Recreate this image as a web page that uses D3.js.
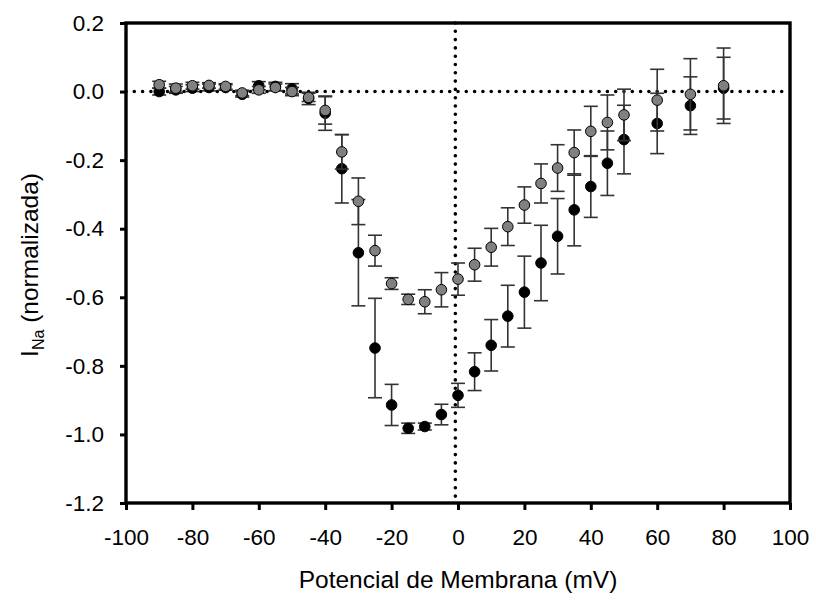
<!DOCTYPE html>
<html>
<head>
<meta charset="utf-8">
<script src="https://cdn.jsdelivr.net/npm/d3@7"></script>
<style>
  body { margin: 0; background: #fff; }
  svg text { font-family: "Liberation Sans", Arial, sans-serif; fill: #000; }
</style>
</head>
<body>
<div id="chart"></div>
<script>
// membrane potential steps (mV)
const voltages = [-90, -85, -80, -75, -70, -65, -60, -55, -50, -45, -40, -35, -30, -25, -20, -15,
                  -10, -5, 0, 5, 10, 15, 20, 25, 30, 35, 40, 45, 50, 60, 70, 80];

// black series: mean and error
const blackMean = [0.0, 0.005, 0.01, 0.012, 0.012, -0.008, 0.017, 0.015, 0.008, -0.02, -0.063, -0.225,
                   -0.47, -0.748, -0.914, -0.982, -0.977, -0.942, -0.886, -0.817, -0.74, -0.655, -0.585,
                   -0.5, -0.422, -0.345, -0.277, -0.209, -0.14, -0.093, -0.041, 0.01];
const blackErr = [0.01, 0.01, 0.01, 0.01, 0.008, 0.008, 0.012, 0.012, 0.015, 0.018, 0.05, 0.1,
                  0.155, 0.145, 0.06, 0.015, 0.01, 0.03, 0.035, 0.055, 0.075, 0.09, 0.105,
                  0.11, 0.11, 0.105, 0.09, 0.094, 0.1, 0.088, 0.084, 0.09];

// grey series
const greyMean = [0.02, 0.01, 0.017, 0.018, 0.015, -0.004, 0.005, 0.012, 0.0, -0.017, -0.055, -0.176,
                  -0.32, -0.464, -0.56, -0.606, -0.613, -0.578, -0.547, -0.505, -0.454, -0.394, -0.331,
                  -0.268, -0.223, -0.178, -0.116, -0.09, -0.068, -0.025, -0.008, 0.017];
const greyErr = [0.01, 0.012, 0.01, 0.008, 0.008, 0.008, 0.01, 0.01, 0.012, 0.012, 0.04, 0.05,
                 0.068, 0.045, 0.017, 0.015, 0.035, 0.05, 0.047, 0.048, 0.055, 0.055, 0.053,
                 0.057, 0.068, 0.066, 0.073, 0.08, 0.075, 0.09, 0.104, 0.11];

const xTicks = [-100, -80, -60, -40, -20, 0, 20, 40, 60, 80, 100];
const yTicks = [0.2, 0.0, -0.2, -0.4, -0.6, -0.8, -1.0, -1.2];
const zeroLineX = -0.8;   // vertical dotted reference line sits just left of 0

const width = 816, height = 600;
const margin = {top: 23, right: 26, bottom: 97, left: 126};

const svg = d3.select("#chart").append("svg")
  .attr("width", width)
  .attr("height", height);

const x = d3.scaleLinear().domain([-100, 100]).range([margin.left, width - margin.right]);
const y = d3.scaleLinear().domain([-1.2, 0.2]).range([height - margin.bottom, margin.top]);

// plain hyphen instead of the unicode minus d3 uses
const fmtX = d => d3.format("d")(d).replace("\u2212", "-");
const fmtY = d => d3.format(".1f")(d).replace("\u2212", "-");

// dotted reference lines
svg.append("line")
  .attr("x1", x(-100)).attr("x2", x(100))
  .attr("y1", y(0)).attr("y2", y(0))
  .attr("stroke", "#000").attr("stroke-width", 3.6)
  .attr("stroke-linecap", "round").attr("stroke-dasharray", "0,8.3");
svg.append("line")
  .attr("x1", x(zeroLineX)).attr("x2", x(zeroLineX))
  .attr("y1", y(0.2)).attr("y2", y(-1.2))
  .attr("stroke", "#000").attr("stroke-width", 3.6)
  .attr("stroke-linecap", "round").attr("stroke-dasharray", "0,8.3");

function drawSeries(means, errs, fill) {
  const data = voltages.map((v, i) => ({v: v, m: means[i], e: errs[i]}));
  const g = svg.append("g");
  const bars = g.selectAll("g.bar").data(data).enter().append("g")
    .attr("stroke", "#333").attr("stroke-width", 1.6);
  bars.append("line")
    .attr("x1", d => x(d.v)).attr("x2", d => x(d.v))
    .attr("y1", d => y(d.m + d.e)).attr("y2", d => y(d.m - d.e));
  bars.append("line")
    .attr("x1", d => x(d.v) - 7).attr("x2", d => x(d.v) + 7)
    .attr("y1", d => y(d.m + d.e)).attr("y2", d => y(d.m + d.e));
  bars.append("line")
    .attr("x1", d => x(d.v) - 7).attr("x2", d => x(d.v) + 7)
    .attr("y1", d => y(d.m - d.e)).attr("y2", d => y(d.m - d.e));
  g.selectAll("circle").data(data).enter().append("circle")
    .attr("cx", d => x(d.v))
    .attr("cy", d => y(d.m))
    .attr("r", 5.3)
    .attr("fill", fill)
    .attr("stroke", "#000")
    .attr("stroke-width", 1);
}

drawSeries(blackMean, blackErr, "#000");
drawSeries(greyMean, greyErr, "#808080");

// axes
const xAxis = svg.append("g")
  .attr("transform", "translate(0," + y(-1.2) + ")")
  .call(d3.axisBottom(x).tickValues(xTicks).tickSize(7).tickPadding(19).tickFormat(fmtX));
const yAxis = svg.append("g")
  .attr("transform", "translate(" + x(-100) + ",0)")
  .call(d3.axisLeft(y).tickValues(yTicks).tickSize(6).tickPadding(16).tickFormat(fmtY));

[xAxis, yAxis].forEach(a => {
  a.select(".domain").remove();
  a.selectAll(".tick line").attr("stroke", "#000").attr("stroke-width", 3);
  a.selectAll(".tick text").attr("font-size", 22.5).attr("font-family", "Liberation Sans, Arial, sans-serif");
});
xAxis.selectAll(".tick text").attr("dy", "0.71em");

// frame
svg.append("rect")
  .attr("x", x(-100)).attr("y", y(0.2))
  .attr("width", x(100) - x(-100)).attr("height", y(-1.2) - y(0.2))
  .attr("fill", "none").attr("stroke", "#000").attr("stroke-width", 3.4);

// titles
svg.append("text")
  .attr("x", (x(-100) + x(100)) / 2)
  .attr("y", 588)
  .attr("text-anchor", "middle")
  .attr("font-size", 24.5)
  .text("Potencial de Membrana (mV)");

const yTitle = svg.append("text")
  .attr("transform", "translate(38," + 265 + ") rotate(-90)")
  .attr("text-anchor", "middle")
  .attr("font-size", 24.5);
yTitle.append("tspan").text("I");
yTitle.append("tspan").attr("font-size", 16).attr("dy", 6).text("Na");
yTitle.append("tspan").attr("dy", -6).text(" (normalizada)");
</script>
</body>
</html>
